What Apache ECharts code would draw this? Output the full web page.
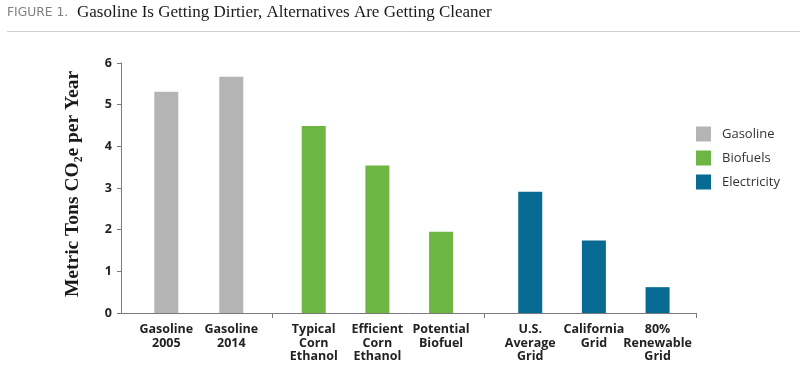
<!DOCTYPE html>
<html>
<head>
<meta charset="utf-8">
<script src="https://cdn.jsdelivr.net/npm/echarts@6/dist/echarts.min.js"></script>
<style>html,body{margin:0;padding:0;background:#fff}#c{width:800px;height:372px}</style>
</head>
<body>
<div id="c"></div>
<script>
const gasolineCategories = ['Gasoline\n2005', 'Gasoline\n2014'];
const gasolineValues = [5.31, 5.67];
const biofuelCategories = ['Typical\nCorn\nEthanol', 'Efficient\nCorn\nEthanol', 'Potential\nBiofuel'];
const biofuelValues = [4.49, 3.54, 1.95];
const electricityCategories = ['U.S.\nAverage\nGrid', 'California\nGrid', '80%\nRenewable\nGrid'];
const electricityValues = [2.91, 1.74, 0.62];
const yTicks = [0, 1, 2, 3, 4, 5, 6];

const chart = echarts.init(document.getElementById('c'), null, {renderer: 'canvas'});
const sans = 'Open Sans';
const catLabel = {fontFamily: sans, fontWeight: 'bold', fontSize: 12.5, color: '#222', lineHeight: 13.3, margin: 10, interval: 0};
const hiddenY = (gi) => ({type: 'value', gridIndex: gi, min: yTicks[0], max: yTicks[yTicks.length-1], interval: 1, show: false});
const catX = (gi, data) => ({type: 'category', gridIndex: gi, data: data, axisLine: {show: false}, axisTick: {show: false}, axisLabel: catLabel, splitLine: {show: false}});

chart.setOption({
  animation: false,
  graphic: [
    {type: 'text', left: 7, top: 7, style: {text: 'FIGURE 1.', font: '12.3px "DejaVu Sans"', fill: '#808080'}},
    {type: 'text', left: 77, top: 4, style: {text: 'Gasoline Is Getting Dirtier, Alternatives Are Getting Cleaner', font: '17px "Liberation Serif"', fill: '#1a1a1a'}},
    {type: 'line', shape: {x1: 7, y1: 31.5, x2: 800, y2: 31.5}, style: {stroke: '#cfcfcf', lineWidth: 1}}
  ],
  legend: {
    orient: 'vertical', left: 696, top: 126.5, padding: 0, itemWidth: 15, itemHeight: 15, itemGap: 9,
    icon: 'rect', textStyle: {fontFamily: sans, fontSize: 13, color: '#333', padding: [0, 0, 0, 6]},
    data: ['Gasoline', 'Biofuels', 'Electricity']
  },
  grid: [
    {left: 121, width: 575, top: 63, height: 250},
    {left: 133.8, width: 130, top: 63, height: 250},
    {left: 281.9, width: 191, top: 63, height: 250},
    {left: 498.4, width: 191, top: 63, height: 250}
  ],
  xAxis: [
    {type: 'value', gridIndex: 0, min: 0, max: 575, axisLabel: {show: false}, splitLine: {show: false},
     axisLine: {show: true, lineStyle: {color: '#7a7a7a', width: 1}},
     axisTick: {show: true, length: 5, lineStyle: {color: '#7a7a7a'}, customValues: [151.7, 363.7, 575]}},
    catX(1, gasolineCategories),
    catX(2, biofuelCategories),
    catX(3, electricityCategories)
  ],
  yAxis: [
    {type: 'value', gridIndex: 0, min: yTicks[0], max: yTicks[yTicks.length-1], interval: 1,
     axisLine: {show: true, lineStyle: {color: '#7a7a7a', width: 1}},
     axisTick: {show: true, length: 4, lineStyle: {color: '#7a7a7a'}},
     splitLine: {show: false},
     axisLabel: {fontFamily: sans, fontWeight: 'bold', fontSize: 12.5, color: '#222', margin: 9},
     name: 'Metric Tons CO₂e per Year', nameLocation: 'middle', nameGap: 38,
     nameTextStyle: {fontFamily: 'Liberation Serif', fontWeight: 'bold', fontSize: 19.5, color: '#1a1a1a', padding: [0, 0, 0, 8]}},
    hiddenY(1), hiddenY(2), hiddenY(3)
  ],
  series: [
    {name: 'Gasoline', type: 'bar', xAxisIndex: 1, yAxisIndex: 1, data: gasolineValues, barWidth: 24, itemStyle: {color: '#b4b4b4'}},
    {name: 'Biofuels', type: 'bar', xAxisIndex: 2, yAxisIndex: 2, data: biofuelValues, barWidth: 24, itemStyle: {color: '#6db644'}},
    {name: 'Electricity', type: 'bar', xAxisIndex: 3, yAxisIndex: 3, data: electricityValues, barWidth: 24, itemStyle: {color: '#066a92'}}
  ]
});
</script>
</body>
</html>
